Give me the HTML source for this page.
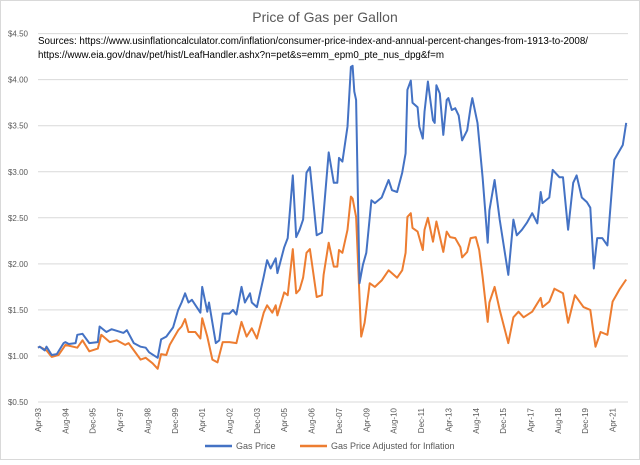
<!DOCTYPE html>
<html><head><meta charset="utf-8"><style>
body{margin:0;background:#fff;font-family:"Liberation Sans",sans-serif}
svg text{font-family:"Liberation Sans",sans-serif}
</style></head><body>
<svg id="chart" width="640" height="460" viewBox="0 0 640 460">
<rect x="0.5" y="0.5" width="639" height="459" fill="#fff" stroke="#d9d9d9"/>
<text x="325" y="22" text-anchor="middle" font-size="14" fill="#595959">Price of Gas per Gallon</text>
<text x="38" y="44" font-size="9.8" fill="#000">Sources: https://www.usinflationcalculator.com/inflation/consumer-price-index-and-annual-percent-changes-from-1913-to-2008/</text>
<text x="38" y="58" font-size="9.8" fill="#000">https://www.eia.gov/dnav/pet/hist/LeafHandler.ashx?n=pet&amp;s=emm_epm0_pte_nus_dpg&amp;f=m</text>
<g id="grid"></g><g id="yl"></g><g id="xl"></g><g id="series"></g>
<g>
<line x1="205" y1="446" x2="232" y2="446" stroke="#4472c4" stroke-width="2.5"/>
<text x="236" y="449" font-size="9" fill="#595959">Gas Price</text>
<line x1="300" y1="446" x2="327" y2="446" stroke="#ed7d31" stroke-width="2.5"/>
<text x="331" y="449" font-size="9" fill="#595959">Gas Price Adjusted for Inflation</text>
</g>
</svg>
<script>
const yTicks=[0.5,1,1.5,2,2.5,3,3.5,4,4.5];
const xTickLabels=["Apr-93","Aug-94","Dec-95","Apr-97","Aug-98","Dec-99","Apr-01","Aug-02","Dec-03","Apr-05","Aug-06","Dec-07","Apr-09","Aug-10","Dec-11","Apr-13","Aug-14","Dec-15","Apr-17","Aug-18","Dec-19","Apr-21"];
const gasMonths=[0,1,4,5,8,11,15,16,18,22,23,26,30,35,36,40,43,50,52,56,60,63,65,70,72,75,79,82,84,86,88,90,95,96,99,100,104,106,108,112,114,116,119,121,124,125,128,132,134,136,139,140,144,146,149,151,153,155,157,159,163,166,167,170,171,173,175,176,178,181,183,184,185,186,188,190,192,195,197,201,205,207,210,213,215,216,218,219,222,223,225,226,228,231,232,233,235,237,239,240,242,244,246,248,251,253,254,257,260,263,264,267,270,275,278,280,283,286,289,292,294,295,299,301,305,307,310,313,315,318,321,323,325,327,330,333,336,337,342,344];
const gasPrice=[1.09,1.10,1.06,1.10,1.01,1.02,1.14,1.15,1.13,1.14,1.23,1.24,1.14,1.15,1.32,1.26,1.29,1.25,1.28,1.14,1.10,1.09,1.04,0.98,1.18,1.21,1.31,1.50,1.58,1.68,1.58,1.61,1.47,1.75,1.48,1.58,1.14,1.17,1.46,1.46,1.50,1.45,1.75,1.58,1.68,1.58,1.53,1.86,2.04,1.95,2.06,1.90,2.18,2.28,2.96,2.29,2.37,2.48,2.99,3.05,2.31,2.34,2.55,3.21,3.10,2.88,2.88,3.15,3.11,3.49,4.14,4.15,3.87,3.78,1.79,1.99,2.12,2.69,2.66,2.72,2.91,2.80,2.78,2.99,3.20,3.89,3.99,3.75,3.70,3.49,3.36,3.65,3.98,3.56,3.53,3.94,3.85,3.40,3.78,3.80,3.67,3.69,3.61,3.34,3.45,3.70,3.80,3.53,2.94,2.23,2.58,2.91,2.48,1.88,2.48,2.31,2.37,2.45,2.55,2.44,2.78,2.66,2.72,3.02,2.94,2.94,2.37,2.88,2.96,2.72,2.67,2.61,1.95,2.28,2.28,2.20,2.91,3.13,3.29,3.53];
const adjMonths=[0,1,5,8,12,15,16,23,26,30,35,37,42,46,51,53,60,63,67,70,72,75,77,82,84,86,88,92,95,96,99,102,105,108,112,116,119,122,125,128,132,134,137,139,140,144,146,149,151,153,155,157,159,163,166,167,170,173,175,176,178,181,183,184,186,189,191,194,197,201,205,210,213,215,216,218,219,222,225,226,228,231,233,237,239,241,244,247,248,251,253,256,258,260,263,264,267,270,275,278,281,284,289,294,295,299,302,307,310,314,319,323,326,329,333,336,340,344];
const adjPrice=[1.09,1.10,1.06,0.99,1.01,1.09,1.12,1.09,1.17,1.05,1.08,1.23,1.15,1.17,1.12,1.14,0.96,0.98,0.92,0.86,1.02,1.01,1.12,1.28,1.32,1.40,1.26,1.26,1.19,1.41,1.21,0.96,0.93,1.15,1.15,1.14,1.37,1.21,1.30,1.19,1.47,1.55,1.47,1.55,1.44,1.69,1.66,2.16,1.68,1.72,1.85,2.12,2.16,1.64,1.66,1.88,2.23,1.97,1.97,2.15,2.12,2.37,2.73,2.71,2.51,1.21,1.36,1.79,1.75,1.82,1.93,1.85,1.93,2.12,2.51,2.55,2.39,2.35,2.15,2.37,2.50,2.24,2.46,2.13,2.35,2.29,2.28,2.18,2.07,2.13,2.28,2.29,2.15,1.86,1.37,1.58,1.75,1.50,1.14,1.42,1.48,1.42,1.48,1.63,1.53,1.59,1.73,1.68,1.36,1.66,1.53,1.50,1.10,1.26,1.23,1.59,1.72,1.83];
const NS='http://www.w3.org/2000/svg';
const X0=38,PX=1.71,X1=628;
function xs(m){return X0+m*PX;}
function ys(v){return 402-(v-0.5)*92.1;}
function mk(tag,attrs,parent){const e=document.createElementNS(NS,tag);for(const k in attrs)e.setAttribute(k,attrs[k]);parent.appendChild(e);return e;}
const grid=document.getElementById('grid'),yl=document.getElementById('yl'),xl=document.getElementById('xl'),ser=document.getElementById('series');
yTicks.forEach(v=>{
  const l=mk('line',{x1:X0,x2:X1,y1:ys(v),y2:ys(v),stroke:'#d9d9d9','stroke-width':1},grid);
  
  
  const t=mk('text',{x:28,y:ys(v)+3,'text-anchor':'end','font-size':8,fill:'#595959'},yl);
  t.textContent='$'+v.toFixed(2);
  
  
});
xTickLabels.forEach((s,i)=>{
  const x=xs(i*16);
  const t=mk('text',{x:0,y:0,'text-anchor':'end','font-size':8,fill:'#595959',transform:'translate('+(x+3)+',408) rotate(-90)'},xl);
  t.textContent=s;
  
  
});
function path(ms,vs){return ms.map((m,i)=>(i?'L':'M')+xs(m).toFixed(1)+','+ys(vs[i]).toFixed(1)).join('');}
const pa=mk('path',{d:path(adjMonths,adjPrice),fill:'none',stroke:'#ed7d31','stroke-width':2,'stroke-linejoin':'round'},ser);


const pg=mk('path',{d:path(gasMonths,gasPrice),fill:'none',stroke:'#4472c4','stroke-width':2,'stroke-linejoin':'round'},ser);


</script>
</body></html>
